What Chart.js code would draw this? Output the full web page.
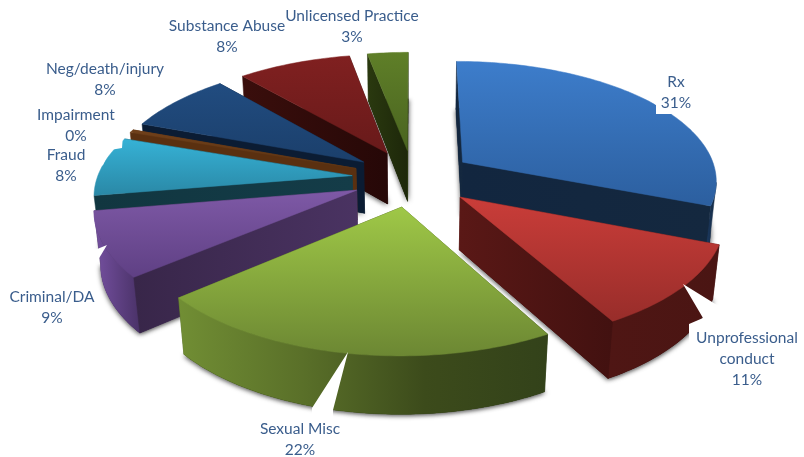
<!DOCTYPE html>
<html><head><meta charset="utf-8">
<style>html,body{margin:0;padding:0;background:#fff}canvas{display:block}</style>
<script src="https://cdn.jsdelivr.net/npm/chart.js@4/dist/chart.umd.min.js"></script>
</head><body><canvas id="c" width="804" height="457"></canvas>
<script>
const categories = ['Rx','Unprofessional\nconduct','Sexual Misc','Criminal/DA','Fraud','Impairment','Neg/death/injury','Substance Abuse','Unlicensed Practice'];
const values = [31,11,22,8.6,7.9,0.4,8,8.4,3];
const tickLabels = ['31%','11%','22%','9%','8%','0%','8%','8%','3%'];

// styling, not data
const labelCentres = [[676,82],[747,338],[300,429],[52,297],[66,155],[76,115],[105,69],[227,26],[352,16]];
const topColours = [['#3d7dcb','#2c5f9f'],['#ca3d39','#982d2a'],['#9fc847','#6c8733'],['#7e59a6','#5f4084'],['#36b2d6','#2a88a6'],['#70401a','#5e3412'],['#214c80','#1b3f6b'],['#802020','#681a1a'],['#5f7f28','#4a6420']];
const cutColours = [['#12263f','#14283f'],['#5a1816','#421110'],['#4a5f20','#2f3d14'],['#382649','#4a3362'],['#113640','#143c48'],['#5a3010','#5a3010'],['#0b1c33','#0b1c33'],['#3a0e0c','#260807'],['#2a390f','#1d270a']];
const wallColours = [['#1c3c66','#14283f'],['#4f1614','#4a1513'],['#718e34','#5a7029','#3c4b1b','#33421a'],['#7550a0','#4a3268'],['#123a46','#123a46'],['#5a3010','#5a3010'],['#0b1c33','#0b1c33'],['#3a0e0c','#3a0e0c'],['#2a390f','#2a390f']];
const view = {cx:413, cy:178, A:255, B:119, H:53, k:0.14, m:0.02, e:0.24};
const erasers = [
  [[645,97],[656,105],[656,114],[673,114],[690,95]],
  [[683,284],[725,310],[725,345],[689,345],[689,324],[703,318]],
  [[348,352],[312,408],[312,420],[333,420],[333,410]],
  [[107,245],[90,252],[90,262],[98,260]],
  [[110,130],[123,135],[122,148],[110,150],[103,165],[100,167],[95,177],[85,177],[85,130]]
];

function project(u,v,z){
  const w = 1 - view.k*v + view.m*z;
  return [view.cx + view.A*u/w, view.cy + (view.B*v + view.H*z)/w];
}
function path(ctx,pts){
  ctx.beginPath();
  pts.forEach((p,i)=> i?ctx.lineTo(p[0],p[1]):ctx.moveTo(p[0],p[1]));
  ctx.closePath();
}
function stops(g,cols){cols.forEach((c,i)=>g.addColorStop(i/(cols.length-1),c));return g;}
function vGrad(ctx,pts,cols){
  const ys=pts.map(p=>p[1]);
  return stops(ctx.createLinearGradient(0,Math.min(...ys),0,Math.max(...ys)),cols);
}
function hGrad(ctx,pts,cols){
  const xs=pts.map(p=>p[0]);
  return stops(ctx.createLinearGradient(Math.min(...xs),0,Math.max(...xs),0),cols);
}
function fillFace(ctx,pts,style){
  path(ctx,pts);ctx.fillStyle=style;ctx.fill();
  ctx.strokeStyle=style;ctx.lineWidth=0.5;ctx.stroke();
}

function drawSlice(ctx,arc,i){
  const a0=arc.startAngle,a1=arc.endAngle,mid=(a0+a1)/2;
  const ou=view.e*Math.cos(mid),ov=view.e*Math.sin(mid);
  const n=Math.max(2,Math.ceil((a1-a0)/0.02));
  const rim=[];
  for(let j=0;j<=n;j++){const a=a0+(a1-a0)*j/n;rim.push([Math.cos(a)+ou,Math.sin(a)+ov]);}
  const P=(q,z)=>project(q[0],q[1],z);
  const apex=[ou,ov];
  const topPts=[P(apex,0),...rim.map(q=>P(q,0))];
  const botPts=[P(apex,1),...rim.map(q=>P(q,1))];

  // soft shadow of the whole solid
  ctx.save();
  ctx.shadowColor='rgba(0,0,0,0.45)';ctx.shadowBlur=4;ctx.shadowOffsetX=-1;ctx.shadowOffsetY=2;
  path(ctx,botPts);ctx.fillStyle=cutColours[i][1];ctx.fill();
  ctx.restore();
  ctx.save();
  ctx.shadowColor='rgba(0,0,0,0.35)';ctx.shadowBlur=4;ctx.shadowOffsetX=2;ctx.shadowOffsetY=1;
  path(ctx,botPts);ctx.fillStyle=cutColours[i][1];ctx.fill();
  ctx.restore();

  const first=rim[0],last=rim[rim.length-1];
  const startQuad=[P(apex,0),P(first,0),P(first,1),P(apex,1)];
  const endQuad=[P(last,0),P(apex,0),P(apex,1),P(last,1)];
  const startFront=P(first,0)[0]<P(apex,0)[0];
  const endFront=P(last,0)[0]>P(apex,0)[0];
  if(!startFront)fillFace(ctx,startQuad,hGrad(ctx,startQuad,cutColours[i]));
  if(!endFront)fillFace(ctx,endQuad,hGrad(ctx,endQuad,cutColours[i]));

  // visible part of the curved outer wall
  const seg=[];
  for(let j=0;j<n;j++){
    const p=P(rim[j],0),q=P(rim[j+1],0);
    if(q[0]<p[0])seg.push(j);
  }
  if(seg.length){
    const ups=[],downs=[];
    for(let j=seg[0];j<=seg[seg.length-1]+1;j++){ups.push(P(rim[j],0));downs.unshift(P(rim[j],1));}
    const wall=[...ups,...downs];
    fillFace(ctx,wall,hGrad(ctx,wall,wallColours[i]));
  }
  if(startFront)fillFace(ctx,startQuad,hGrad(ctx,startQuad,cutColours[i]));
  if(endFront)fillFace(ctx,endQuad,hGrad(ctx,endQuad,cutColours[i]));
  fillFace(ctx,topPts,vGrad(ctx,topPts,topColours[i]));
}

const pie3d={
  id:'pie3d',
  beforeDatasetDraw(chart,args){
    const ctx=chart.ctx,arcs=chart.getDatasetMeta(args.index).data;
    // painter's order: farthest solid first
    const order=arcs.map((a,i)=>({a,i,d:Math.sin((a.startAngle+a.endAngle)/2)})).sort((p,q)=>p.d-q.d);
    ctx.save();
    order.forEach(o=>drawSlice(ctx,o.a,o.i));
    ctx.restore();
    return false;
  },
  afterDatasetsDraw(chart){
    const ctx=chart.ctx;
    ctx.save();
    ctx.fillStyle='#fff';
    erasers.forEach(p=>{path(ctx,p);ctx.fill();});
    ctx.font='15.5px Lato, "Open Sans", sans-serif';
    ctx.fillStyle='#3a5d8c';
    ctx.textAlign='center';ctx.textBaseline='middle';
    categories.forEach((c,i)=>{
      const lines=[...c.split('\n'),tickLabels[i]];
      lines.forEach((t,j)=>ctx.fillText(t,labelCentres[i][0],labelCentres[i][1]+j*21));
    });
    ctx.restore();
  }
};

new Chart(document.getElementById('c'),{
  type:'pie',
  data:{labels:categories,datasets:[{data:values,backgroundColor:topColours.map(c=>c[0]),borderWidth:0}]},
  options:{responsive:false,devicePixelRatio:1,animation:false,rotation:0,
    plugins:{legend:{display:false},tooltip:{enabled:false}}},
  plugins:[pie3d]
});
</script></body></html>
